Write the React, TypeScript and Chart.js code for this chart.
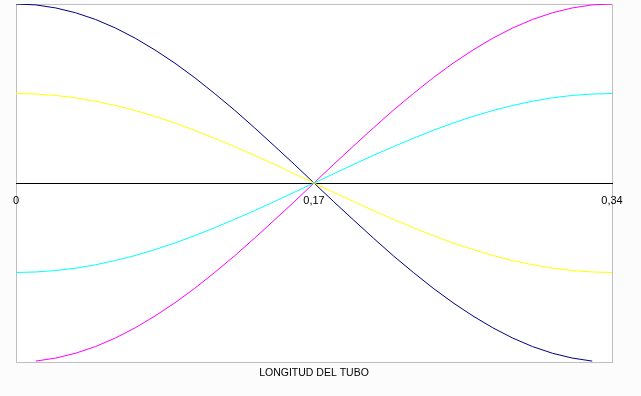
import React, { useEffect, useRef } from "react";
import { Chart, registerables } from "chart.js";

Chart.register(...registerables);

const X_POS = [0, 0.0113, 0.0227, 0.034, 0.0453, 0.0567, 0.068, 0.0793, 0.0907, 0.102, 0.1133, 0.1247, 0.136, 0.1473, 0.1587, 0.17, 0.1813, 0.1927, 0.204, 0.2153, 0.2267, 0.238, 0.2493, 0.2607, 0.272, 0.2833, 0.2947, 0.306, 0.3173, 0.3287, 0.34];

const NAVY = [1, 0.995, 0.978, 0.951, 0.914, 0.866, 0.809, 0.743, 0.669, 0.588, 0.5, 0.407, 0.309, 0.208, 0.105, 0, -0.105, -0.208, -0.309, -0.407, -0.5, -0.588, -0.669, -0.743, -0.809, -0.866, -0.914, -0.951, -0.978, -0.995, null];
const MAGENTA = [null, -0.995, -0.978, -0.951, -0.914, -0.866, -0.809, -0.743, -0.669, -0.588, -0.5, -0.407, -0.309, -0.208, -0.105, 0, 0.105, 0.208, 0.309, 0.407, 0.5, 0.588, 0.669, 0.743, 0.809, 0.866, 0.914, 0.951, 0.978, 0.995, 1];
const YELLOW = [0.5, 0.497, 0.489, 0.476, 0.457, 0.433, 0.405, 0.372, 0.335, 0.294, 0.25, 0.203, 0.155, 0.104, 0.052, 0, -0.052, -0.104, -0.155, -0.203, -0.25, -0.294, -0.335, -0.372, -0.405, -0.433, -0.457, -0.476, -0.489, -0.497, -0.5];
const CYAN = [-0.5, -0.497, -0.489, -0.476, -0.457, -0.433, -0.405, -0.372, -0.335, -0.294, -0.25, -0.203, -0.155, -0.104, -0.052, 0, 0.052, 0.104, 0.155, 0.203, 0.25, 0.294, 0.335, 0.372, 0.405, 0.433, 0.457, 0.476, 0.489, 0.497, 0.5];

const X_TICKS = [0, 0.17, 0.34];
const X_TITLE = "LONGITUD DEL TUBO";

const toPoints = (vals: (number | null)[]) =>
  X_POS.map((x, i) => ({ x, y: vals[i] }));

const framePlugin = {
  id: "frame",
  beforeDraw(chart: any) {
    const { ctx, chartArea, width, height } = chart;
    ctx.save();
    ctx.fillStyle = "#fcfcfc";
    ctx.fillRect(0, 0, width, height);
    ctx.fillStyle = "#ffffff";
    ctx.fillRect(chartArea.left, chartArea.top, chartArea.right - chartArea.left, chartArea.bottom - chartArea.top);
    ctx.strokeStyle = "#bfbfbf";
    ctx.lineWidth = 1;
    ctx.strokeRect(chartArea.left + 0.5, chartArea.top + 0.5, chartArea.right - chartArea.left, chartArea.bottom - chartArea.top);
    ctx.restore();
  },
};

export default function App() {
  const ref = useRef<HTMLCanvasElement>(null);
  useEffect(() => {
    document.body.style.margin = "0";
    const line = (data: (number | null)[], color: string) => ({
      data: toPoints(data),
      borderColor: color,
      backgroundColor: color,
      borderWidth: 1,
      pointRadius: 0,
      tension: 0,
      fill: false,
    });
    const chart = new Chart(ref.current!, {
      type: "line",
      data: {
        datasets: [
          line(YELLOW, "#ffff00"),
          line(CYAN, "#00ffff"),
          line(MAGENTA, "#ff00ff"),
          line(NAVY, "#000080"),
        ],
      },
      options: {
        animation: false,
        responsive: true,
        maintainAspectRatio: false,
        layout: { padding: { left: 16, right: 29, top: 4, bottom: 0 } },
        plugins: {
          legend: { display: false },
          tooltip: { enabled: false },
          title: {
            display: true,
            text: X_TITLE,
            position: "bottom",
            fullSize: false,
            color: "#000000",
            font: { family: "'Liberation Sans', Arial, sans-serif", size: 10.5, weight: "normal" },
            padding: { top: 5, bottom: 16.4 },
          },
        },
        scales: {
          x: {
            type: "linear",
            min: 0,
            max: 0.34,
            position: { y: 0 },
            grid: { display: true, drawOnChartArea: false, drawTicks: false },
            border: { display: true, color: "#000000", width: 1 },
            afterBuildTicks: (axis: any) => {
              axis.ticks = X_TICKS.map((v) => ({ value: v }));
            },
            ticks: {
              color: "#000000",
              maxRotation: 0,
              autoSkip: false,
              padding: 11,
              font: { family: "'Liberation Sans', Arial, sans-serif", size: 11 },
              callback: (v: any) => String(v).replace(".", ","),
            },
          },
          y: {
            type: "linear",
            min: -1,
            max: 1,
            display: false,
          },
        },
      },
      plugins: [framePlugin],
    });
    return () => chart.destroy();
  }, []);
  return (
    <div style={{ position: "relative", width: 641, height: 396 }}>
      <canvas ref={ref} />
    </div>
  );
}
